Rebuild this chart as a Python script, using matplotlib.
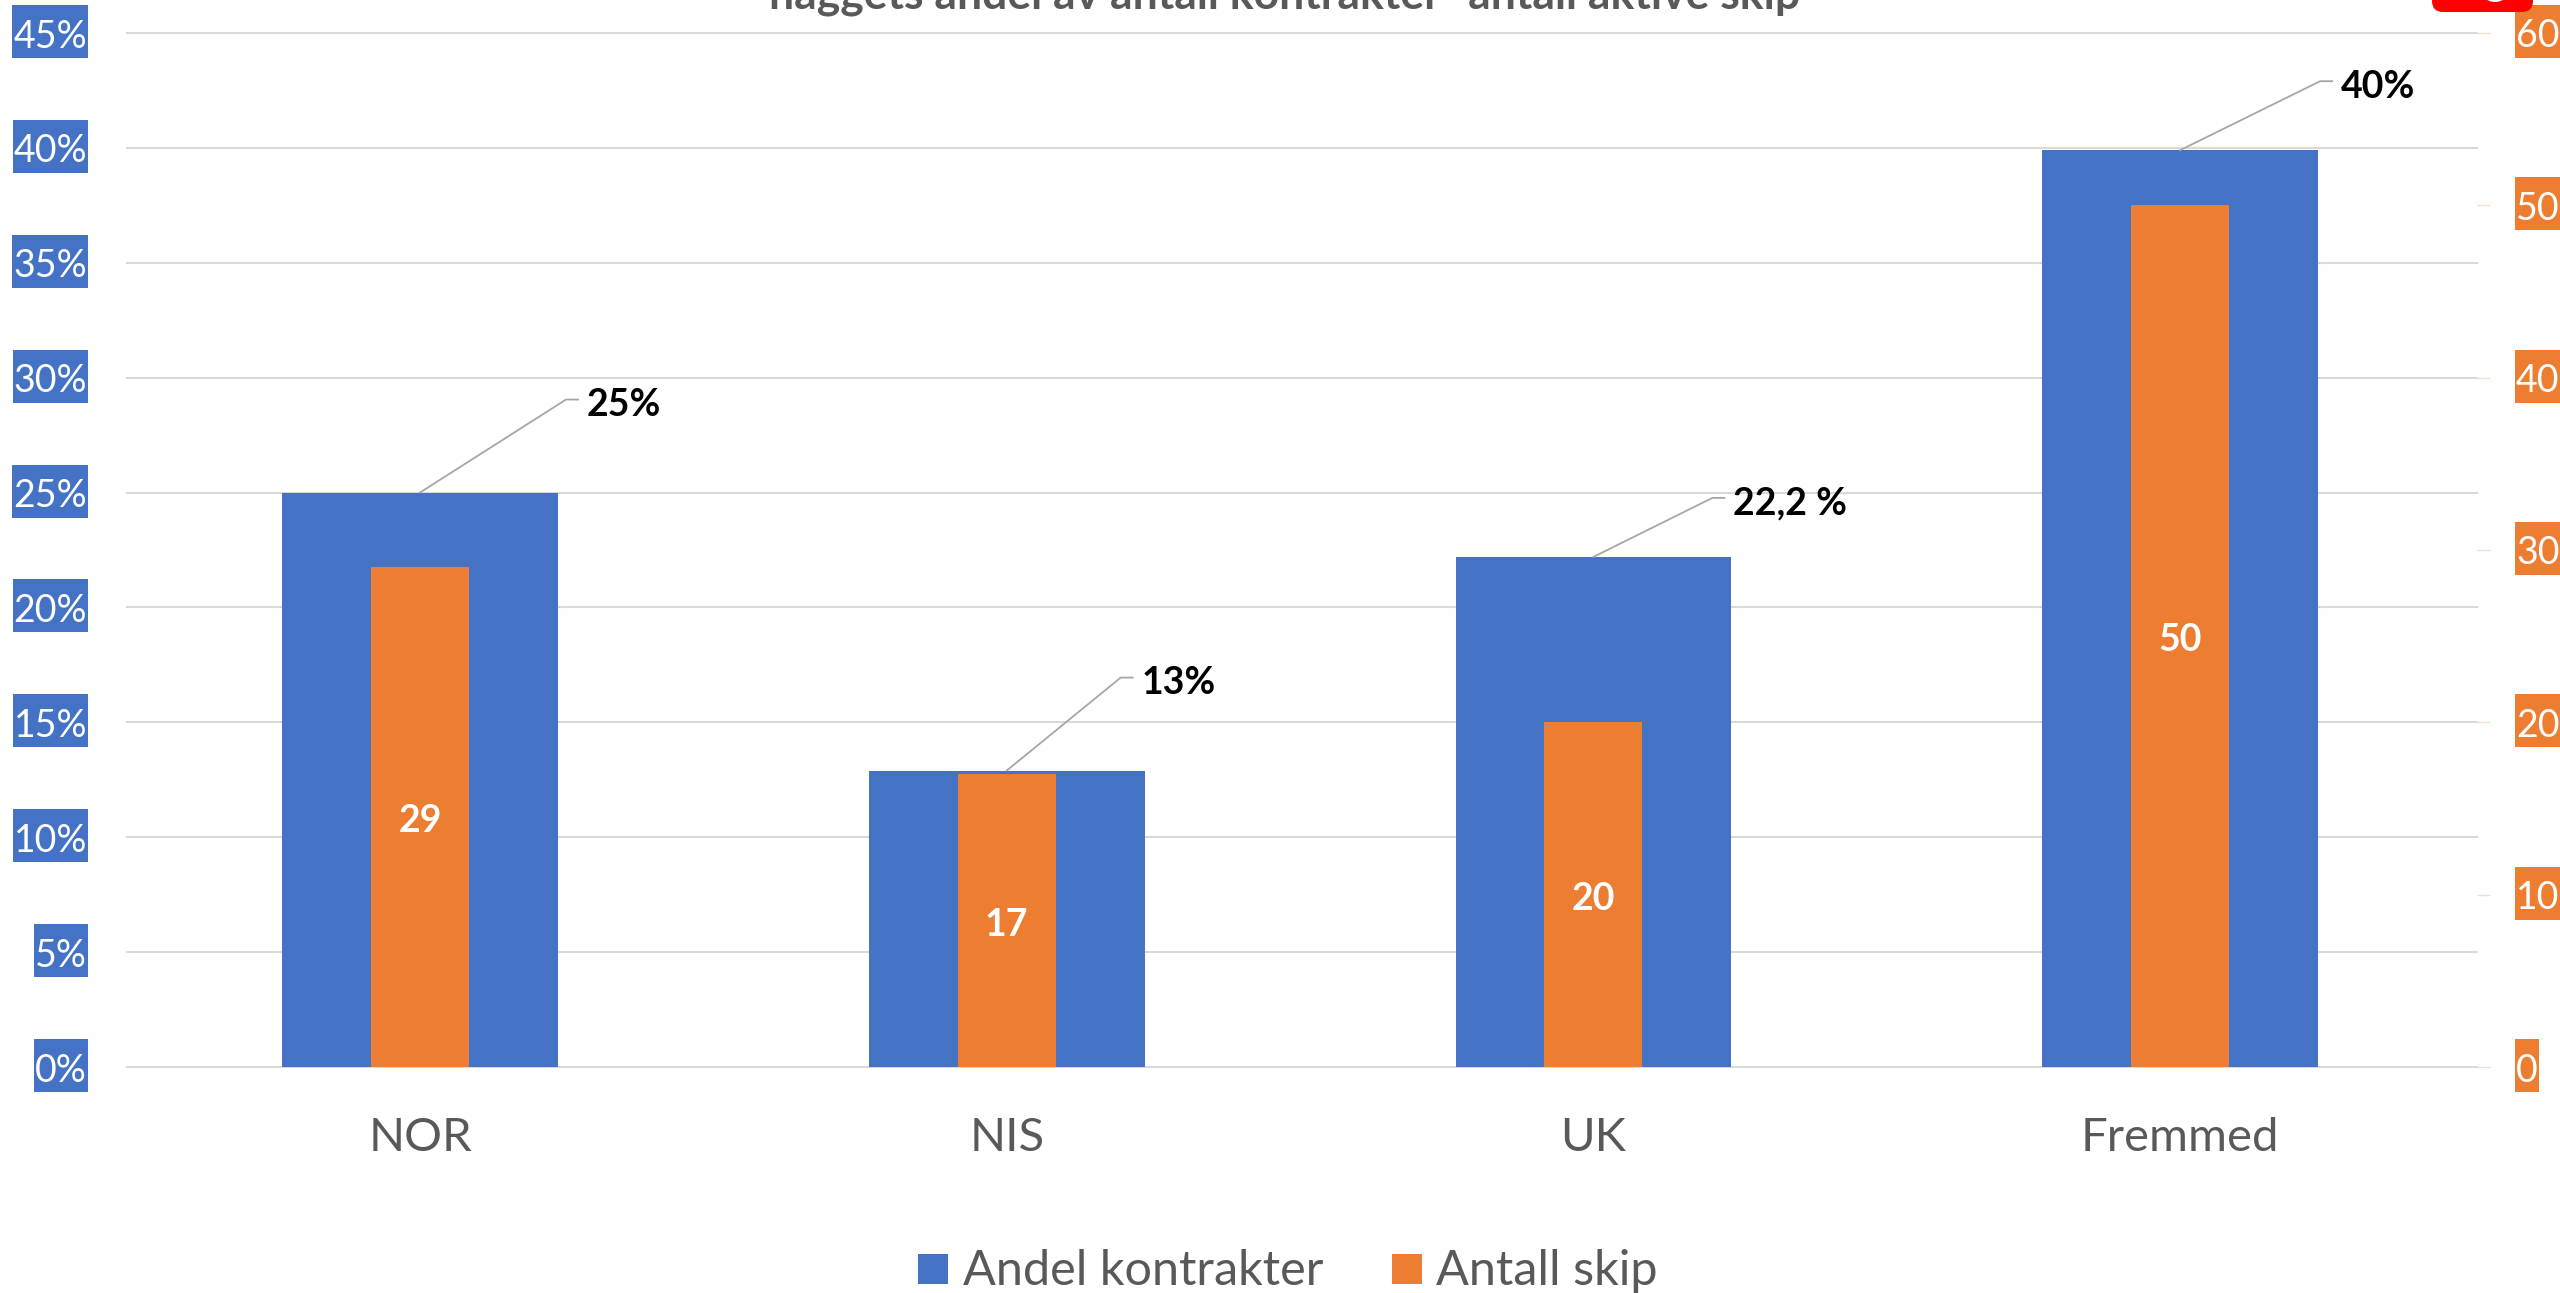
import numpy as np
import matplotlib
matplotlib.use('Agg')
import matplotlib.pyplot as plt
from matplotlib.patches import FancyBboxPatch, Rectangle, Ellipse
from matplotlib.transforms import IdentityTransform

plt.rcParams['font.family'] = ['Lato', 'DejaVu Sans']

categories = ['NOR', 'NIS', 'UK', 'Fremmed']
andel_kontrakter = [25, 12.9, 22.2, 39.9]
antall_skip = [29, 17, 20, 50]
andel_labels = ['25%', '13%', '22,2 %', '40%']
skip_labels = ['29', '17', '20', '50']
left_ticks = [0, 5, 10, 15, 20, 25, 30, 35, 40, 45]
right_ticks = [0, 10, 20, 30, 40, 50, 60]
title = 'håggets andel av antall kontrakter- antall aktive skip'

BLUE = '#4472C4'
ORANGE = '#ED7D31'
GREY = '#595959'
W, H = 2560, 1293

fig = plt.figure(figsize=(W/100, H/100), dpi=100)
ax = fig.add_axes([127/W, 1-1067/H, (2477-127)/W, (1067-33)/H])
ax2 = ax.twinx()

x = np.arange(len(categories))
ax.bar(x, andel_kontrakter, width=0.47, color=BLUE, zorder=2)
ax2.bar(x, antall_skip, width=0.167, color=ORANGE, zorder=2)

ax.set_xlim(-0.4994, 3.506)
ax.set_ylim(0, 45)
ax2.set_ylim(0, 60)

ax.set_yticks(left_ticks)
ax.set_yticklabels(['%d%%' % t for t in left_ticks])
ax2.set_yticks(right_ticks)
ax2.set_yticklabels([str(t) for t in right_ticks])
ax.grid(True, axis='y', color='#D9D9D9', lw=1.5, zorder=0, clip_on=False)
ax.set_axisbelow(True)

for a in (ax, ax2):
    for s in a.spines.values():
        s.set_visible(False)

ax.tick_params(axis='y', length=0, pad=28.8, labelsize=27, labelcolor='white')
ax2.tick_params(axis='y', length=9.4, width=1, color='#F8DCC8', pad=18.7, labelsize=27, labelcolor='white')

ax.set_xticks(x)
ax.set_xticklabels(categories)
ax.tick_params(axis='x', length=0, pad=36, labelsize=34, labelcolor=GREY)

# white values inside the orange bars
for i, v in enumerate(antall_skip):
    ax2.annotate(skip_labels[i], xy=(x[i], v/2), xytext=(0, -3), textcoords='offset points',
                 color='white', fontsize=27, fontweight='bold', ha='center', va='center', zorder=5)

# callouts with leader lines, offsets in pixels
leader_dx = [146, 114, 119, 140]
leader_dy = [93, 93, 59, 69]
inv = ax.transData.inverted()
for i, v in enumerate(andel_kontrakter):
    px, py = ax.transData.transform((x[i], v))
    dx, dy = leader_dx[i], leader_dy[i]
    xs, ys = inv.transform([(px, py), (px+dx, py+dy), (px+dx+12, py+dy)]).T
    ax.plot(xs, ys, color='#A6A6A6', lw=1.3, clip_on=False, zorder=4)
    ax.annotate(andel_labels[i], xy=(xs[2], ys[2]), xytext=(6.5, -4), textcoords='offset points',
                fontsize=27, fontweight='bold', color='black', va='center', annotation_clip=False)

fig.text(1285/W, 1-9/H, title, fontsize=32, fontweight='bold', color=GREY, ha='center', va='baseline')

# red shape cut off by the top edge
fig.add_artist(FancyBboxPatch((2432, H-12), 101, 40, boxstyle='round,pad=0,rounding_size=11',
                              transform=IdentityTransform(), facecolor='#FF0000', edgecolor='none', zorder=1))
fig.add_artist(Ellipse((2495, H+14), 32, 32, transform=IdentityTransform(), facecolor='white',
                       edgecolor='none', zorder=2))

# legend
fig.add_artist(Rectangle((918/W, 1-1284/H), 30/W, 30/H, transform=fig.transFigure, facecolor=BLUE, edgecolor='none'))
fig.text(963/W, 1-1271/H, 'Andel kontrakter', fontsize=35, color=GREY, va='center')
fig.add_artist(Rectangle((1392/W, 1-1284/H), 30/W, 30/H, transform=fig.transFigure, facecolor=ORANGE, edgecolor='none'))
fig.text(1436/W, 1-1271/H, 'Antall skip', fontsize=35, color=GREY, va='center')

# coloured boxes behind the tick labels, as tall as in the reference
fig.canvas.draw()
renderer = fig.canvas.get_renderer()
for a, colour in ((ax, BLUE), (ax2, ORANGE)):
    for tick, lab in zip(a.get_yticks(), a.get_yticklabels()):
        ext = lab.get_window_extent(renderer)
        yc = a.transData.transform((0, tick))[1] + 1.5
        fig.add_artist(Rectangle((ext.x0 - 1, yc - 26.5), ext.width + 2, 53, transform=IdentityTransform(),
                                 facecolor=colour, edgecolor='none', zorder=-1))

fig.savefig('out.png', dpi=100)
